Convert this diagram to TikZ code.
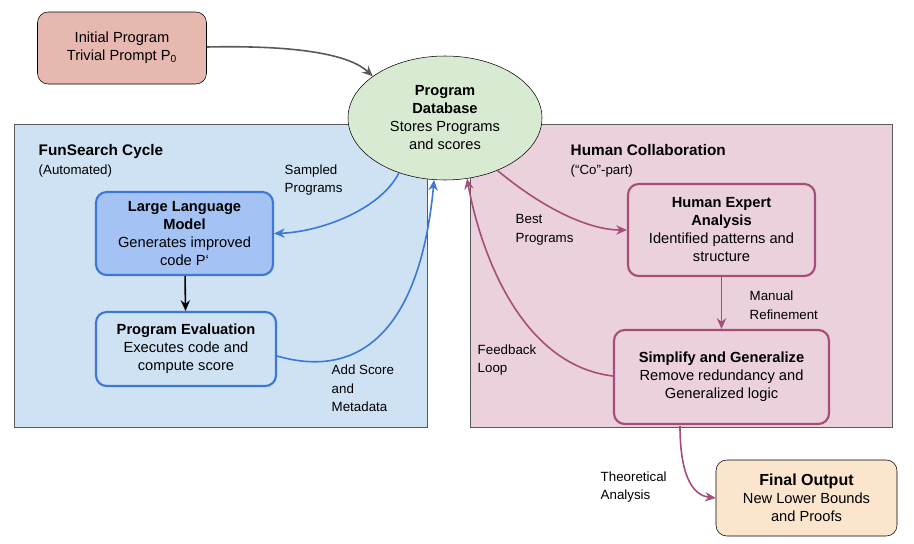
\documentclass[tikz,border=0pt]{standalone}
\usepackage{fontspec}
\setmainfont{Liberation Sans}
\usetikzlibrary{shapes.geometric,arrows.meta}
\definecolor{salmon}{HTML}{E6B8AF}
\definecolor{dbg}{HTML}{D9EAD3}
\definecolor{lblue}{HTML}{CFE2F3}
\definecolor{mblue}{HTML}{A4C2F4}
\definecolor{bblue}{HTML}{3C78D8}
\definecolor{lpink}{HTML}{EAD1DC}
\definecolor{mag}{HTML}{A64D79}
\definecolor{peach}{HTML}{FCE5CD}
\tikzset{
 txt/.style={font=\fontsize{11}{13.5}\selectfont, align=center},
 lbl/.style={font=\fontsize{10}{14}\selectfont, align=left, anchor=west},
 box/.style={draw, rounded corners=8pt, txt},
 bluebox/.style={box, draw=bblue, line width=1.6pt},
 pinkbox/.style={box, draw=mag, line width=1.6pt, fill=lpink},
 arr/.style={-{Stealth[length=8pt,width=7pt]}, line width=1.2pt},
}
\begin{document}
\begin{tikzpicture}[x=0.75pt,y=-0.75pt]
\useasboundingbox (0,0) rectangle (914,543);
\node[draw=gray!70!black, fill=lblue, minimum width=413*0.75pt, minimum height=303*0.75pt, anchor=north west] (fs) at (14,124) {};
\node[draw=gray!70!black, fill=lpink, minimum width=422*0.75pt, minimum height=303*0.75pt, anchor=north west] (hc) at (470,124) {};
\node[lbl, anchor=north west] (fst) at (34,140) {\fontsize{11.5}{14}\selectfont\textbf{FunSearch Cycle}\\(Automated)};
\node[lbl, anchor=north west] (hct) at (566,140) {\fontsize{11.5}{14}\selectfont\textbf{Human Collaboration}\\(“Co”-part)};
\node[box, fill=salmon, draw=black, minimum width=169*0.75pt, minimum height=72*0.75pt] (init) at (122,48) {Initial Program\\Trivial Prompt P\textsubscript{0}};
\node[ellipse, draw=black, fill=dbg, txt, minimum width=194*0.75pt, minimum height=124*0.75pt, inner sep=0pt] (db) at (445,118) {\textbf{Program}\\\textbf{Database}\\Stores Programs\\and scores};
\node[bluebox, fill=mblue, minimum width=177*0.75pt, minimum height=83*0.75pt] (llm) at (184.5,233.5) {\textbf{Large Language}\\\textbf{Model}\\Generates improved\\code P`};
\node[bluebox, fill=lblue, minimum width=180*0.75pt, minimum height=74*0.75pt] (ev) at (186,349) {\textbf{Program Evaluation}\\Executes code and\\compute score};
\node[pinkbox, minimum width=187*0.75pt, minimum height=92*0.75pt] (ha) at (721.5,230) {\textbf{Human Expert}\\\textbf{Analysis}\\Identified patterns and\\structure};
\node[pinkbox, minimum width=215*0.75pt, minimum height=94*0.75pt] (sg) at (721.5,377) {\textbf{Simplify and Generalize}\\Remove redundancy and\\Generalized logic};
\node[box, fill=peach, draw=black, minimum width=181*0.75pt, minimum height=76*0.75pt] (fo) at (806.5,498) {\fontsize{12}{14}\selectfont\textbf{Final Output}\\New Lower Bounds\\and Proofs};
\coordinate (c1) at (680,426);
\draw[arr, gray!70!black] (init.east|-0,47) .. controls (300,45) and (350,55) .. (db.150);
\draw[arr, bblue] (db.230) .. controls (380,210) and (320,232) .. (llm.east);
\draw[arr, black] (llm) -- (ev);
\draw[arr, bblue] (ev.east|-0,356) .. controls (360,380) and (420,330) .. (db.260);
\draw[arr, mag] (db.315) .. controls (545,210) and (590,230) .. (ha.west);
\draw[arr, mag] (ha) -- (sg);
\draw[arr, mag] (sg.west|-0,376) .. controls (520,365) and (480,250) .. (db.290);
\draw[arr, mag] (c1) .. controls (680,470) and (690,495) .. (fo.west);
\node[lbl] (l1) at (280,180) {Sampled\\Programs};
\node[lbl, anchor=north west] (l2) at (327,360) {Add Score\\and\\Metadata};
\node[lbl] (l3) at (511,230) {Best\\Programs};
\node[lbl] (l4) at (745,305) {Manual\\Refinement};
\node[lbl] (l5) at (473,360) {Feedback\\Loop};
\node[lbl] (l6) at (596,487) {Theoretical\\Analysis};
\end{tikzpicture}
\end{document}
